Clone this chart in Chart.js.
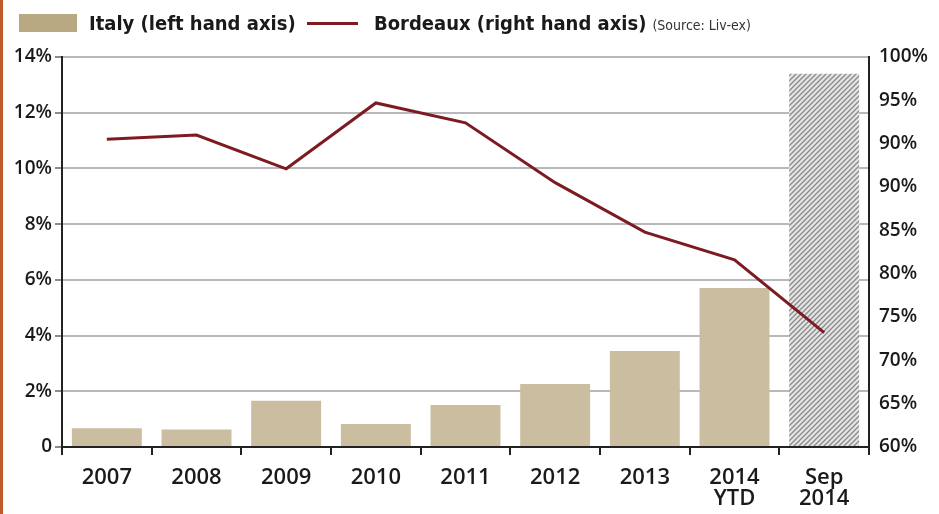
<!DOCTYPE html>
<html>
<head>
<meta charset="utf-8">
<script src="https://cdn.jsdelivr.net/npm/chart.js@4.4.1/dist/chart.umd.min.js"></script>
<style>
  html, body { margin: 0; padding: 0; background: #fff; }
  #wrap { position: relative; width: 939px; height: 514px; overflow: hidden; }
  #edge { position: absolute; left: 0; top: 0; width: 3px; height: 514px; background: #c05a2a; }
  .legend { position: absolute; top: 10px; height: 26px; line-height: 26px; white-space: nowrap;
            font-family: "DejaVu Sans Condensed", "DejaVu Sans"; font-stretch: condensed; color: #1a1a1a; }
  .lab { font-size: 20px; font-weight: bold; }
  .src { font-size: 14px; font-weight: normal; margin-left: 6px; color: #333; }
  #swatch { position: absolute; left: 19px; top: 14px; width: 58px; height: 18px; background: #b9a983; }
  #lineKey { position: absolute; left: 307px; top: 22px; width: 51px; height: 3px; background: #7d1b22; }
</style>
</head>
<body>
<div id="wrap">
  <canvas id="chart" width="939" height="514"></canvas>
  <div id="edge"></div>
  <div id="swatch"></div>
  <div class="legend" style="left:89px"><span class="lab">Italy (left hand axis)</span></div>
  <div id="lineKey"></div>
  <div class="legend" style="left:374px"><span class="lab">Bordeaux (right hand axis)</span><span class="src">(Source: Liv-ex)</span></div>
</div>
<script>
var categories = [['2007'], ['2008'], ['2009'], ['2010'], ['2011'], ['2012'], ['2013'], ['2014', 'YTD'], ['Sep', '2014']];
var italyShare = [0.67, 0.63, 1.66, 0.83, 1.51, 2.26, 3.45, 5.71, 13.4];
var bordeauxShare = [90.5, 91.0, 87.1, 94.7, 92.4, 85.5, 79.8, 76.6, 68.2];
var leftTickLabels = ['0', '2%', '4%', '6%', '8%', '10%', '12%', '14%'];
var rightTickLabels = ['100%', '95%', '90%', '90%', '85%', '80%', '75%', '70%', '65%', '60%'];

var canvas = document.getElementById('chart');
var ctx = canvas.getContext('2d');

// hatched fill for the last (Sep 2014) column
function makeHatch() {
    var c = document.createElement('canvas');
    c.width = 5; c.height = 5;
    var g = c.getContext('2d');
    g.fillStyle = '#e4e4e4';
    g.fillRect(0, 0, 5, 5);
    g.strokeStyle = '#8a8a8a';
    g.lineWidth = 1.3;
    g.beginPath();
    g.moveTo(0, 5); g.lineTo(5, 0);
    g.moveTo(-1, 1); g.lineTo(1, -1);
    g.moveTo(4, 6); g.lineTo(6, 4);
    g.stroke();
    return ctx.createPattern(c, 'repeat');
}
var hatch = makeHatch();

var tickFont = { family: 'Open Sans', size: 19, weight: '600' };

var myChart = new Chart(ctx, {
    type: 'bar',
    data: {
        labels: categories,
        datasets: [{
            type: 'line',
            label: 'Bordeaux (right hand axis)',
            data: bordeauxShare,
            yAxisID: 'y1',
            borderColor: '#7d1b22',
            borderWidth: 3,
            pointRadius: 0,
            tension: 0,
            order: 0
        },
        {
            label: 'Italy (left hand axis)',
            data: italyShare,
            yAxisID: 'y',
            backgroundColor: function (c) {
                return c.dataIndex === italyShare.length - 1 ? hatch : '#cbbd9f';
            },
            categoryPercentage: 1,
            barPercentage: 0.78,
            order: 1
        }]
    },
    options: {
        responsive: false,
        animation: false,
        layout: { padding: { top: 57, left: 4, right: 0, bottom: 0 } },
        plugins: {
            legend: { display: false },
            tooltip: { enabled: false }
        },
        scales: {
            x: {
                offset: true,
                grid: { drawOnChartArea: false, offset: true, tickLength: 8, color: '#222', lineWidth: 2 },
                border: { color: '#222', width: 2 },
                ticks: {
                    color: '#1a1a1a',
                    font: { family: 'Open Sans', size: 22, weight: '600', lineHeight: 0.95 },
                    padding: 12,
                    maxRotation: 0,
                    autoSkip: false
                },
                afterFit: function (s) { s.height = 67; }
            },
            y: {
                position: 'left',
                min: 0,
                max: 14,
                ticks: {
                    stepSize: 2,
                    color: '#1a1a1a',
                    font: tickFont,
                    padding: 3,
                    callback: function (v, i) { return leftTickLabels[i]; }
                },
                grid: { color: '#b8b8b8', lineWidth: 2, tickLength: 7, tickColor: '#8a8a8a' },
                border: { color: '#222', width: 2 },
                afterFit: function (s) { s.width = 58; }
            },
            y1: {
                position: 'right',
                min: 55,
                max: 100,
                ticks: {
                    stepSize: 5,
                    color: '#1a1a1a',
                    font: tickFont,
                    padding: 10,
                    callback: function (v, i, ticks) { return rightTickLabels[ticks.length - 1 - i]; }
                },
                grid: { drawOnChartArea: false, drawTicks: false },
                border: { color: '#222', width: 2 },
                afterFit: function (s) { s.width = 70; }
            }
        }
    }
});
</script>
</body>
</html>
